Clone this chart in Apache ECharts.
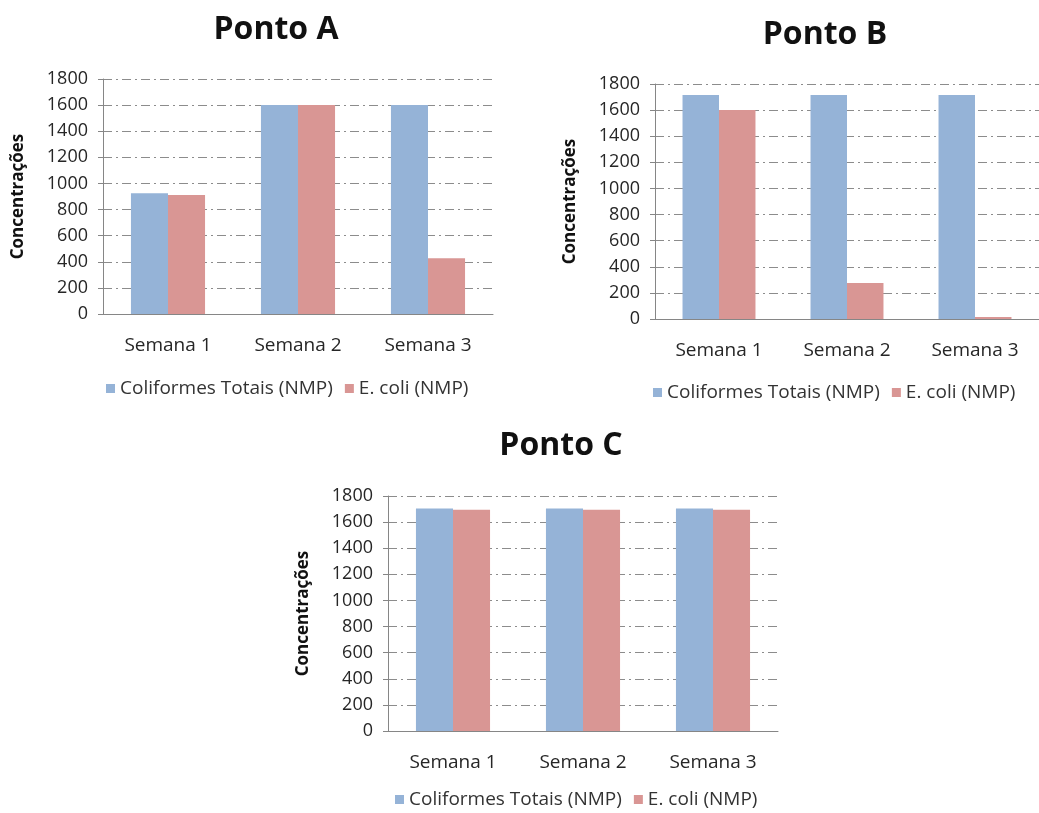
<!DOCTYPE html>
<html>
<head>
<meta charset="utf-8">
<script src="https://cdn.jsdelivr.net/npm/echarts@6/dist/echarts.min.js"></script>
<style>html,body{margin:0;padding:0;background:#fff;}#main{width:1039px;height:813px;}</style>
</head>
<body>
<div id="main"></div>
<script>
var categories = ['Semana 1', 'Semana 2', 'Semana 3'];
var seriesNames = ['Coliformes Totais (NMP)', 'E. coli (NMP)'];
var titles = ['Ponto A', 'Ponto B', 'Ponto C'];
var yTicks = [0, 1800, 200];
var aColiformes = [925, 1600, 1600];
var aEcoli = [912, 1600, 427];
var bColiformes = [1715, 1715, 1715];
var bEcoli = [1600, 275, 15];
var cColiformes = [1705, 1705, 1705];
var cEcoli = [1695, 1695, 1695];

var BLUE = '#95B3D7', RED = '#D99694';
var FONT = 'Open Sans';
var grids = [
  {left: 103, top: 79, width: 390, height: 235},
  {left: 655, top: 84, width: 388, height: 235},
  {left: 388, top: 496, width: 390, height: 235}
];
var titlePos = [{left: 276, top: 14}, {left: 825, top: 19}, {left: 561, top: 430}];
var legendPos = [{left: 106, top: 379}, {left: 653, top: 383}, {left: 395, top: 790}];
var data = [[aColiformes, aEcoli], [bColiformes, bEcoli], [cColiformes, cEcoli]];

var option = {
  backgroundColor: '#fff',
  animation: false,
  title: titles.map(function (t, i) {
    return {text: t, left: titlePos[i].left, top: titlePos[i].top, textAlign: 'center', padding: 0,
      textStyle: {fontFamily: FONT, fontWeight: 'bold', fontSize: 32, color: '#111'}};
  }),
  legend: legendPos.map(function (p) {
    return {data: seriesNames, left: p.left, top: p.top, orient: 'horizontal', icon: 'rect',
      itemWidth: 9, itemHeight: 9, itemGap: 12, padding: 0,
      textStyle: {fontFamily: FONT, fontSize: 19, color: '#333'}};
  }),
  grid: grids,
  xAxis: grids.map(function (g, i) {
    return {type: 'category', gridIndex: i, data: categories,
      axisLine: {lineStyle: {color: '#868686', width: 1}},
      axisTick: {show: false},
      axisLabel: {margin: 22, fontFamily: FONT, fontSize: 19, color: '#262626'}};
  }),
  yAxis: grids.map(function (g, i) {
    return {type: 'value', gridIndex: i, min: yTicks[0], max: yTicks[1], interval: yTicks[2],
      name: 'Concentrações', nameLocation: 'middle', nameRotate: 90, nameGap: 76,
      nameTextStyle: {fontFamily: FONT, fontWeight: 'bold', fontSize: 17, color: '#111'},
      axisLine: {show: true, lineStyle: {color: '#868686', width: 1}},
      axisTick: {show: true, inside: false, length: 5, lineStyle: {color: '#868686'}},
      axisLabel: {margin: 15, fontFamily: FONT, fontSize: 18, color: '#262626',
        formatter: function (v) { return String(v); }},
      splitLine: {show: true, lineStyle: {color: '#8c8c8c', width: 1, type: [9, 4, 2, 4]}}};
  }),
  series: []
};
data.forEach(function (pair, i) {
  pair.forEach(function (vals, j) {
    option.series.push({type: 'bar', name: seriesNames[j], xAxisIndex: i, yAxisIndex: i,
      data: vals, barGap: '0%', barCategoryGap: '43%',
      itemStyle: {color: j === 0 ? BLUE : RED}});
  });
});
var chart = echarts.init(document.getElementById('main'), null, {renderer: 'canvas'});
chart.setOption(option);
</script>
</body>
</html>
